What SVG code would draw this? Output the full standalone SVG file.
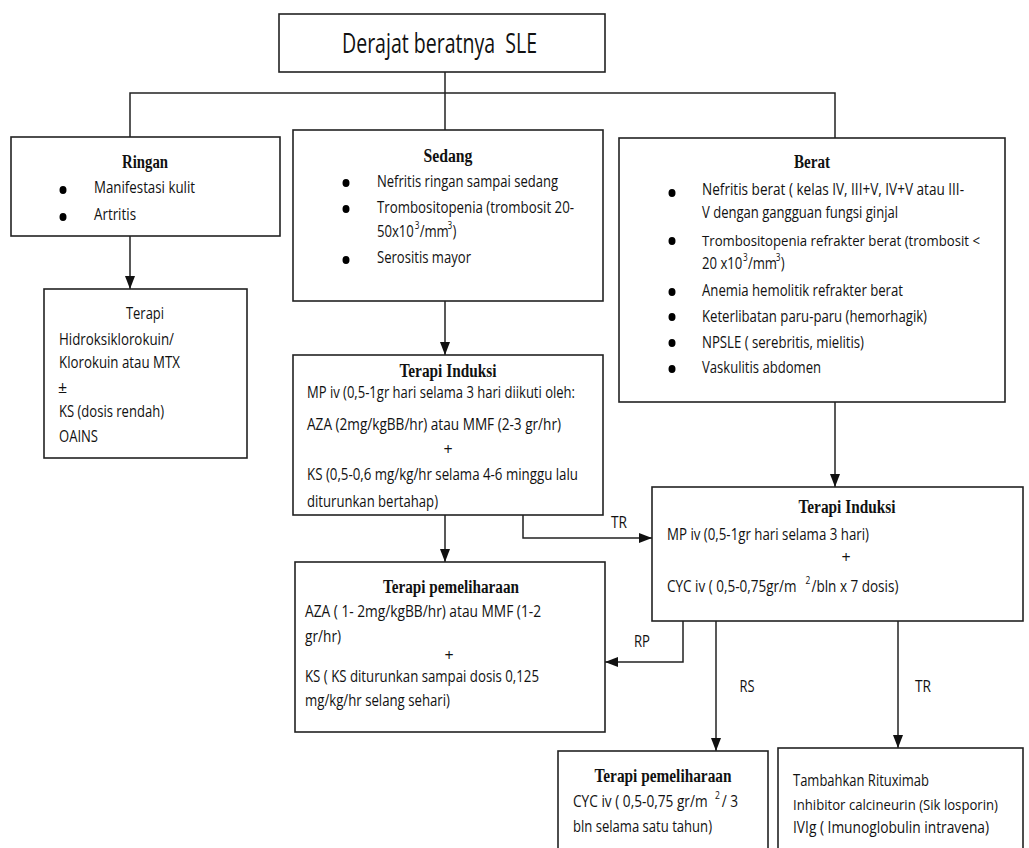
<svg xmlns="http://www.w3.org/2000/svg" width="1029" height="848" viewBox="0 0 1029 848">
<style>
.box{fill:#fff;stroke:#222;stroke-width:1.6}
.c{fill:none;stroke:#222;stroke-width:1.5}
.t{font-family:"Open Sans","Liberation Sans",sans-serif;font-size:16px;fill:#111}
.f15{font-size:15px}
.sp{font-size:10px}
.h{font-family:"Liberation Serif",serif;font-weight:bold;font-size:18px;fill:#111;text-anchor:middle}
.m{text-anchor:middle}
.dot{fill:#000}
</style>
<defs>
<marker id="ah" viewBox="0 0 13 10" refX="13" refY="5" markerWidth="13" markerHeight="10" markerUnits="userSpaceOnUse" orient="auto"><path d="M0,0 L13,5 L0,10 z" fill="#111"/></marker>
</defs>
<rect width="1029" height="848" fill="#fff"/>
<g id="connectors">
<path class="c" d="M445,72 V130"/>
<path class="c" d="M130,137 V93 H835 V138"/>
<path class="c" d="M130,236 V289" marker-end="url(#ah)"/>
<path class="c" d="M445,301 V355" marker-end="url(#ah)"/>
<path class="c" d="M445,515 V562" marker-end="url(#ah)"/>
<path class="c" d="M523,515 V538 H652" marker-end="url(#ah)"/>
<path class="c" d="M835,402 V487" marker-end="url(#ah)"/>
<path class="c" d="M683,621 V662 H605" marker-end="url(#ah)"/>
<path class="c" d="M716,621 V751" marker-end="url(#ah)"/>
<path class="c" d="M898,621 V748" marker-end="url(#ah)"/>
<text class="t m" x="619" y="528" textLength="16" lengthAdjust="spacingAndGlyphs">TR</text>
<text class="t m" x="642" y="647" textLength="16" lengthAdjust="spacingAndGlyphs">RP</text>
<text class="t m" x="747" y="692" textLength="15" lengthAdjust="spacingAndGlyphs">RS</text>
<text class="t m" x="923" y="692" textLength="16" lengthAdjust="spacingAndGlyphs">TR</text>
</g>
<g id="title">
<rect class="box" x="279" y="14" width="326" height="58"/>
<text class="t" x="342" y="53" style="font-size:27px" xml:space="preserve" textLength="195" lengthAdjust="spacingAndGlyphs">Derajat beratnya  SLE</text>
</g>
<g id="ringan">
<rect class="box" x="11" y="137" width="269" height="99"/>
<text class="h" x="145" y="168" textLength="46" lengthAdjust="spacingAndGlyphs">Ringan</text>
<ellipse class="dot" cx="63" cy="190" rx="3.5" ry="4"/>
<ellipse class="dot" cx="63" cy="217" rx="3.5" ry="4"/>
<text class="t" x="94" y="193" textLength="101" lengthAdjust="spacingAndGlyphs">Manifestasi kulit</text>
<text class="t" x="94" y="220" textLength="42" lengthAdjust="spacingAndGlyphs">Artritis</text>
</g>
<g id="ringan-terapi">
<rect class="box" x="44" y="289" width="203" height="169"/>
<text class="t m" x="145" y="319" textLength="38" lengthAdjust="spacingAndGlyphs">Terapi</text>
<text class="t" x="59" y="345" textLength="115" lengthAdjust="spacingAndGlyphs">Hidroksiklorokuin/</text>
<text class="t" x="59" y="368" textLength="121" lengthAdjust="spacingAndGlyphs">Klorokuin atau MTX</text>
<text class="t" x="58" y="393">±</text>
<text class="t" x="59" y="417" textLength="105" lengthAdjust="spacingAndGlyphs">KS (dosis rendah)</text>
<text class="t" x="59" y="442" textLength="39" lengthAdjust="spacingAndGlyphs">OAINS</text>
</g>
<g id="sedang">
<rect class="box" x="293" y="130" width="310" height="171"/>
<text class="h" x="448" y="162" textLength="49" lengthAdjust="spacingAndGlyphs">Sedang</text>
<ellipse class="dot" cx="346" cy="183" rx="3.5" ry="4"/>
<ellipse class="dot" cx="346" cy="209" rx="3.5" ry="4"/>
<ellipse class="dot" cx="346" cy="260" rx="3.5" ry="4"/>
<text class="t" x="377" y="187" textLength="181" lengthAdjust="spacingAndGlyphs">Nefritis ringan sampai sedang</text>
<text class="t" x="377" y="213" textLength="197" lengthAdjust="spacingAndGlyphs">Trombositopenia (trombosit 20-</text>
<text class="t" transform="translate(377,237) scale(0.82,1)"><tspan x="0" y="0">50x10</tspan><tspan class="sp" x="46" y="-8">3</tspan><tspan x="52" y="0">/mm</tspan><tspan class="sp" x="86" y="-8">3</tspan><tspan x="92" y="0">)</tspan></text>
<text class="t" x="377" y="263" textLength="94" lengthAdjust="spacingAndGlyphs">Serositis mayor</text>
</g>
<g id="sedang-induksi">
<rect class="box" x="293" y="355" width="310" height="160"/>
<text class="h" x="448" y="377" textLength="97" lengthAdjust="spacingAndGlyphs">Terapi Induksi</text>
<text class="t" x="307" y="398" textLength="268" lengthAdjust="spacingAndGlyphs">MP iv (0,5-1gr hari selama 3 hari diikuti oleh:</text>
<text class="t" x="307" y="430" textLength="254" lengthAdjust="spacingAndGlyphs">AZA (2mg/kgBB/hr) atau MMF (2-3 gr/hr)</text>
<text class="t m" x="448" y="455">+</text>
<text class="t" x="307" y="480" textLength="271" lengthAdjust="spacingAndGlyphs">KS (0,5-0,6 mg/kg/hr selama 4-6 minggu lalu</text>
<text class="t" x="307" y="507" textLength="131" lengthAdjust="spacingAndGlyphs">diturunkan bertahap)</text>
</g>
<g id="sedang-pemeliharaan">
<rect class="box" x="295" y="562" width="310" height="170"/>
<text class="h" x="451" y="593" textLength="136" lengthAdjust="spacingAndGlyphs">Terapi pemeliharaan</text>
<text class="t" x="305" y="617" textLength="236" lengthAdjust="spacingAndGlyphs">AZA ( 1- 2mg/kgBB/hr) atau MMF (1-2</text>
<text class="t" x="305" y="642" textLength="36" lengthAdjust="spacingAndGlyphs">gr/hr)</text>
<text class="t m" x="449" y="661">+</text>
<text class="t" x="305" y="682" textLength="234" lengthAdjust="spacingAndGlyphs">KS ( KS diturunkan sampai dosis 0,125</text>
<text class="t" x="305" y="706" textLength="145" lengthAdjust="spacingAndGlyphs">mg/kg/hr selang sehari)</text>
</g>
<g id="berat">
<rect class="box" x="619" y="138" width="386" height="264"/>
<text class="h" x="812" y="168" textLength="36" lengthAdjust="spacingAndGlyphs">Berat</text>
<ellipse class="dot" cx="672" cy="193" rx="3.5" ry="4"/>
<ellipse class="dot" cx="672" cy="241" rx="3.5" ry="4"/>
<ellipse class="dot" cx="672" cy="292" rx="3.5" ry="4"/>
<ellipse class="dot" cx="672" cy="317" rx="3.5" ry="4"/>
<ellipse class="dot" cx="672" cy="343" rx="3.5" ry="4"/>
<ellipse class="dot" cx="672" cy="369" rx="3.5" ry="4"/>
<text class="t" x="702" y="195" textLength="262" lengthAdjust="spacingAndGlyphs">Nefritis berat ( kelas IV, III+V, IV+V atau III-</text>
<text class="t" x="702" y="218" textLength="196" lengthAdjust="spacingAndGlyphs">V dengan gangguan fungsi ginjal</text>
<text class="t f15" x="702" y="246" textLength="278" lengthAdjust="spacingAndGlyphs">Trombositopenia refrakter berat (trombosit &lt;</text>
<text class="t" transform="translate(702,269) scale(0.82,1)" xml:space="preserve"><tspan x="0" y="0">20 x10</tspan><tspan class="sp" x="50" y="-8">3</tspan><tspan x="56" y="0">/mm</tspan><tspan class="sp" x="90" y="-8">3</tspan><tspan x="96" y="0">)</tspan></text>
<text class="t" x="702" y="296" textLength="201" lengthAdjust="spacingAndGlyphs">Anemia hemolitik refrakter berat</text>
<text class="t" x="702" y="322" textLength="225" lengthAdjust="spacingAndGlyphs">Keterlibatan paru-paru (hemorhagik)</text>
<text class="t" x="702" y="348" textLength="162" lengthAdjust="spacingAndGlyphs">NPSLE ( serebritis, mielitis)</text>
<text class="t" x="702" y="373" textLength="119" lengthAdjust="spacingAndGlyphs">Vaskulitis abdomen</text>
</g>
<g id="berat-induksi">
<rect class="box" x="652" y="487" width="371" height="134"/>
<text class="h" x="847" y="513" textLength="97" lengthAdjust="spacingAndGlyphs">Terapi Induksi</text>
<text class="t" x="667" y="540" textLength="202" lengthAdjust="spacingAndGlyphs">MP iv (0,5-1gr hari selama 3 hari)</text>
<text class="t m" x="846" y="563">+</text>
<text class="t" transform="translate(667,592) scale(0.845,1)"><tspan x="0" y="0">CYC iv ( 0,5-0,75gr/m</tspan><tspan class="sp" x="164" y="-8">2</tspan><tspan x="171" y="0">/bln x 7 dosis)</tspan></text>
</g>
<g id="berat-pemeliharaan">
<rect class="box" x="558" y="751" width="210" height="110"/>
<text class="h" x="663" y="782" textLength="137" lengthAdjust="spacingAndGlyphs">Terapi pemeliharaan</text>
<text class="t" transform="translate(573,807) scale(0.855,1)"><tspan x="0" y="0">CYC iv ( 0,5-0,75 gr/m</tspan><tspan class="sp" x="166" y="-8">2</tspan><tspan x="174" y="0">/ 3</tspan></text>
<text class="t" x="573" y="832" textLength="139" lengthAdjust="spacingAndGlyphs">bln selama satu tahun)</text>
</g>
<g id="berat-tambahan">
<rect class="box" x="778" y="748" width="245" height="113"/>
<text class="t" x="793" y="786" textLength="136" lengthAdjust="spacingAndGlyphs">Tambahkan Rituximab</text>
<text class="t f15" x="793" y="810" textLength="205" lengthAdjust="spacingAndGlyphs">Inhibitor calcineurin (Sik losporin)</text>
<text class="t" x="793" y="833" textLength="196" lengthAdjust="spacingAndGlyphs">IVIg ( Imunoglobulin intravena)</text>
</g>
</svg>
